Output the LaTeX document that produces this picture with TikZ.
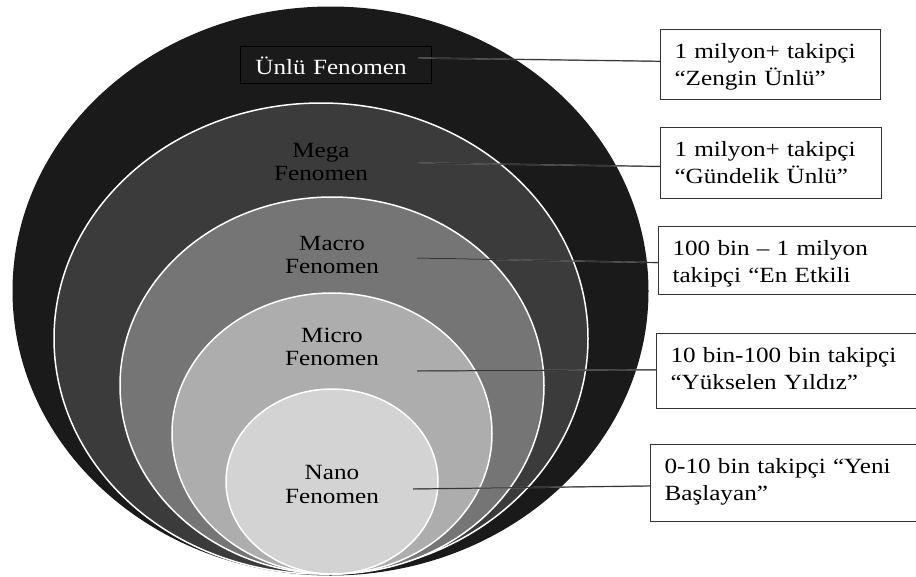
\documentclass[tikz,border=0pt]{standalone}
\usepackage{fontspec}
\usetikzlibrary{shapes.geometric}
\newfontfamily\tnr[FakeStretch=1.16]{Liberation Serif}
\definecolor{ringA}{HTML}{1A1A1A}
\definecolor{ringB}{HTML}{3B3B3B}
\definecolor{ringC}{HTML}{757575}
\definecolor{ringD}{HTML}{ADADAD}
\definecolor{ringE}{HTML}{D3D3D3}
\definecolor{boxline}{HTML}{333333}
\tikzset{
  ring/.style={ellipse, inner sep=0pt, draw=white, line width=1.5pt},
  ringlabel/.style={align=center, text=black, inner sep=0pt,
    font={\tnr\fontsize{21.7pt}{23.5pt}\selectfont}},
  infobox/.style={rectangle, draw=boxline, line width=1.1pt, fill=white,
    anchor=north west, inner xsep=14pt, inner ysep=0pt, align=left,
    text height=28.5pt, font={\tnr\fontsize{21.7pt}{27.7pt}\selectfont}},
  link/.style={draw=black!55, line width=0.45pt, double=black!92,
    double distance=0.5pt}
}
\begin{document}
\begin{tikzpicture}[x=1pt, y=-1pt]
  \useasboundingbox (0,0) rectangle (916,576);
  \fill[white] (0,0) rectangle (916,576);

  % nested ellipses, all resting on the same bottom line
  \node[ring, draw=none, fill=ringA, minimum width=636pt, minimum height=569pt] (r1) at (330.5,291) {};
  \node[ring, fill=ringB, minimum width=534pt, minimum height=471pt] (r2) at (321,338.5) {};
  \node[ring, fill=ringC, minimum width=424pt, minimum height=377pt] (r3) at (332,385.5) {};
  \node[ring, fill=ringD, minimum width=320pt, minimum height=281pt] (r4) at (332,433.5) {};
  \node[ring, fill=ringE, minimum width=212pt, minimum height=185pt] (r5) at (332,481.5) {};

  % level names
  \node[rectangle, draw=black, line width=0.9pt, anchor=north west, inner xsep=15pt,
        inner ysep=0pt, text width=161pt, align=left, text height=28pt, text depth=9pt,
        text=white, font={\tnr\fontsize{21.7pt}{23.5pt}\selectfont}] (l1) at (240,46) {Ünlü Fenomen};
  \node[ringlabel] (l2) at (321,161.8) {Mega\\Fenomen};
  \node[ringlabel] (l3) at (332,254.8) {Macro\\Fenomen};
  \node[ringlabel] (l4) at (332,347.1) {Micro\\Fenomen};
  \node[ringlabel] (l5) at (332,484.3) {Nano\\Fenomen};

  % descriptions (the lower three run past the right edge)
  \node[infobox, text width=192pt, text depth=41pt] (b1) at (660,29)
    {1 milyon+ takipçi\\“Zengin Ünlü”};
  \node[infobox, text width=193pt, text depth=42.3pt] (b2) at (660,127)
    {1 milyon+ takipçi\\“Gündelik Ünlü”};
  \node[infobox, text width=320pt, text depth=39.7pt] (b3) at (658,226)
    {100 bin – 1 milyon\\takipçi “En Etkili};
  \node[infobox, text width=320pt, text depth=46pt] (b4) at (656,333)
    {10 bin-100 bin takipçi\\“Yükselen Yıldız”};
  \node[infobox, text width=320pt, text depth=48.3pt] (b5) at (650,444)
    {0-10 bin takipçi “Yeni\\Başlayan”};

  % connector start points inside the rings
  \coordinate (c1) at (418,58);
  \coordinate (c2) at (418,163);
  \coordinate (c3) at (417,258);
  \coordinate (c4) at (417,371);
  \coordinate (c5) at (413,489);

  \draw[link] (c1) -- ([yshift=3pt]b1.west);
  \draw[link] (c2) -- ([yshift=-3.5pt]b2.west);
  \draw[link] (c3) -- ([yshift=-2pt]b3.west);
  \draw[link] (c4) -- ([yshift=1pt]b4.west);
  \draw[link] (c5) -- ([yshift=-3pt]b5.west);
\end{tikzpicture}
\end{document}
